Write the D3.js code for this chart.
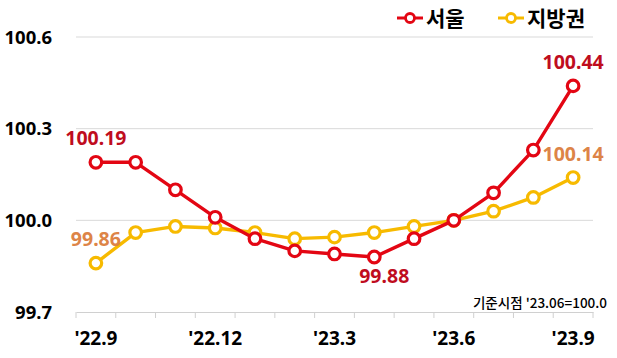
<!DOCTYPE html>
<html><head><meta charset="utf-8">
<script src="https://cdn.jsdelivr.net/npm/d3@7"></script>
<style>
html,body{margin:0;padding:0;background:#fff;}
svg{display:block;font-family:"Noto Sans","Noto Sans CJK KR",sans-serif;}
</style></head>
<body><svg id="c" width="617" height="358"></svg>
<script>
const categories = ["'22.9","'22.10","'22.11","'22.12","'23.1","'23.2","'23.3","'23.4","'23.5","'23.6","'23.7","'23.8","'23.9"];
const shownTicks = ["'22.9","'22.12","'23.3","'23.6","'23.9"];
const seoul = [100.19,100.19,100.10,100.01,99.94,99.90,99.89,99.88,99.94,100.00,100.09,100.23,100.44];
const region = [99.86,99.96,99.98,99.975,99.96,99.94,99.945,99.96,99.98,100.00,100.03,100.075,100.14];
const yTicks = [99.7,100.0,100.3,100.6];
const seriesNames = ["서울","지방권"];
const note = "기준시점 '23.06=100.0";

const svg = d3.select("#c");
const x = d3.scaleBand().domain(categories).range([76,593]).padding(0);
const y = d3.scaleLinear().domain([99.7,100.6]).range([312,37]);
const cx = d => x(d) + x.bandwidth()/2;

const red = "#E30613", gold = "#F7BA00";
const redLbl = "#BF0D1E", orgLbl = "#DD8447";

// gridlines
svg.append("g").selectAll("line").data(yTicks.filter(v=>v>99.7)).join("line")
  .attr("x1",76).attr("x2",593).attr("y1",d=>y(d)).attr("y2",d=>y(d))
  .attr("stroke","#d9d9d9").attr("stroke-width",1);

// y labels
svg.append("g").selectAll("text").data(yTicks).join("text")
  .attr("x",52).attr("y",d=>y(d)).attr("dy","0.36em").attr("text-anchor","end")
  .attr("font-size",18.5).attr("font-weight","bold").attr("fill","#000")
  .text(d=>d.toFixed(1));

// x axis
const xAxis = d3.axisBottom(x).tickSize(0).tickFormat("");
const gx = svg.append("g").attr("transform","translate(0,312)").call(xAxis);
gx.select(".domain").attr("stroke","#d0d0d0");
const bounds = categories.map(c=>x(c)).concat([593]);
gx.selectAll("line.bt").data(bounds).join("line").attr("class","bt")
  .attr("x1",d=>d).attr("x2",d=>d).attr("y1",0).attr("y2",6).attr("stroke","#d0d0d0");
svg.append("g").selectAll("text").data(shownTicks).join("text")
  .attr("x",d=>cx(d)).attr("y",345).attr("text-anchor","middle")
  .attr("font-size",19).attr("font-weight","bold").attr("fill","#000").text(d=>d);

// lines
const line = d3.line().x((d,i)=>cx(categories[i])).y(d=>y(d));
function drawSeries(vals,color){
  svg.append("path").datum(vals).attr("d",line).attr("fill","none")
    .attr("stroke",color).attr("stroke-width",3.4).attr("stroke-linejoin","round");
  svg.append("g").selectAll("circle").data(vals).join("circle")
    .attr("cx",(d,i)=>cx(categories[i])).attr("cy",d=>y(d)).attr("r",5.8)
    .attr("fill","#fff").attr("stroke",color).attr("stroke-width",3.2);
}
drawSeries(region,gold);
drawSeries(seoul,red);

// data labels
const labels = [
  {i:0,v:seoul[0],c:redLbl,dy:-17},
  {i:12,v:seoul[12],c:redLbl,dy:-17},
  {i:7,v:seoul[7],c:redLbl,dy:26},
  {i:0,v:region[0],c:orgLbl,dy:-17},
  {i:12,v:region[12],c:orgLbl,dy:-17}
];
svg.append("g").selectAll("text").data(labels).join("text")
  .attr("x",d=>cx(categories[d.i])+ (d.i===7?10:0)).attr("y",d=>y(d.v)+d.dy)
  .attr("text-anchor","middle").attr("font-size",19.5).attr("font-weight","bold")
  .attr("fill",d=>d.c).text(d=>d.v.toFixed(2));

// note
svg.append("text").attr("x",607).attr("y",308).attr("text-anchor","end")
  .attr("font-size",13.5).attr("font-weight",500).attr("font-family","'Noto Sans CJK KR',sans-serif").attr("fill","#000").text(note);

// legend
const leg = [{n:seriesNames[0],c:red,x:397},{n:seriesNames[1],c:gold,x:498}];
const lg = svg.append("g");
leg.forEach(l=>{
  lg.append("line").attr("x1",l.x).attr("x2",l.x+26).attr("y1",18).attr("y2",18)
    .attr("stroke",l.c).attr("stroke-width",3);
  lg.append("circle").attr("cx",l.x+13).attr("cy",18).attr("r",4.5)
    .attr("fill","#fff").attr("stroke",l.c).attr("stroke-width",2.8);
  lg.append("text").attr("x",l.x+29).attr("y",26).attr("font-size",21).attr("font-weight","bold")
    .attr("font-family","'Noto Sans CJK KR',sans-serif").attr("fill","#000").text(l.n);
});
</script></body></html>
